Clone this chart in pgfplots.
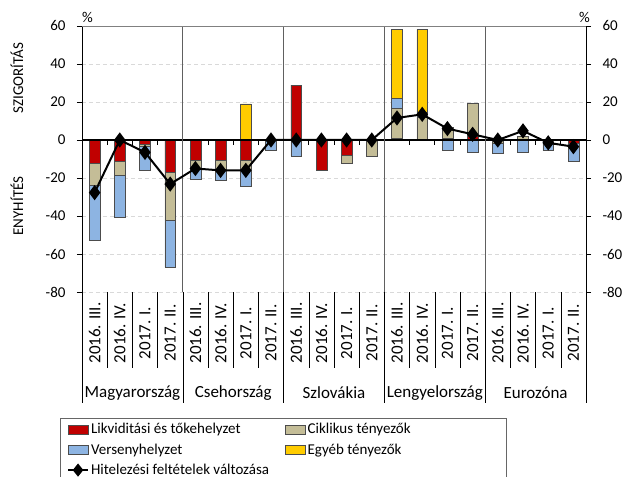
\documentclass[border=0pt]{standalone}
\usepackage{pgfplots}
\pgfplotsset{compat=1.18}
\usepackage{pgfplotstable}
\usepackage{fontspec}
\setmainfont{Carlito}
\definecolor{cRed}{HTML}{C00000}
\definecolor{cTan}{HTML}{C4BD97}
\definecolor{cBlue}{HTML}{8DB4E2}
\definecolor{cYel}{HTML}{FFCC00}
\definecolor{cGrid}{HTML}{D9D9D9}
\definecolor{cSep}{HTML}{606060}
\newcommand\fs{\fontsize{15bp}{18bp}\selectfont}
\newcommand\fl{\fontsize{17bp}{20bp}\selectfont}

% negative parts of the stacked components
\pgfplotstableread{
x R T B
0 -12.3 -11.4 -29.3
1 -11.4 -7.4 -21.6
2 -2.3 -1.2 -12.6
3 -17 -25 -25
4 -10.7 -4.7 -5.3
5 -10.7 -4.7 -5.8
6 -10.7 -4.7 -8.9
7 0 0 -5.3
8 0 0 -8.4
9 -15.8 0 0
10 -7.9 -4.6 0
11 0 -8.4 0
12 0 0 0
13 0 0 0
14 0 0 -5.3
15 0 0 -6.3
16 0 -1.5 -5.5
17 0 0 -6.7
18 0 -0.5 -5.1
19 -1.5 0 -9.8
}\negdata
% positive parts of the stacked components
\pgfplotstableread{
x R T B Y
0 0 0 0 0
1 0 0 0 0
2 0 0 0 0
3 0 0 0 0
4 0 0 0 0
5 0 0 0 0
6 0 0 0 19
7 0 0 0 0
8 28.9 0 0 0
9 0 0 0 0
10 0 0 0 0
11 0 0 0 0
12 1.0 15.6 5.3 36.3
13 0 12 2.5 43.7
14 1 5.5 0 0
15 2 17.3 0 0
16 0 0 0 0
17 0 2 0 0
18 0 0 0 0
19 0 0 0 0
}\posdata
\pgfplotstableread{
x L
0 -27.7
1 0
2 -6.5
3 -23.2
4 -15
5 -16
6 -16
7 0
8 0
9 0
10 0
11 0
12 11.6
13 13.5
14 6
15 3
16 0
17 4.8
18 -1.5
19 -3.5
}\linedata

\pgfplotsset{
  base/.style={
    width=504bp, height=266bp, scale only axis,
    xmin=-0.5, xmax=19.5, ymin=-80, ymax=60,
    xtick=\empty, clip=false,
  },
  bars/.style={base, ybar stacked, bar width=10.7bp},
  seg/.style={draw=black!70, line width=0.5bp},
  barleg/.style={legend image code/.code={\draw[##1] (0bp,-4.5bp) rectangle (20bp,4.5bp);}},
  lineleg/.style={legend image code/.code={%
    \draw[##1, mark=none] (0bp,0bp) -- (20bp,0bp);
    \fill[black] (10bp,5bp) -- (14bp,0bp) -- (10bp,-5bp) -- (6bp,0bp) -- cycle;}},
}

\begin{document}
\begin{tikzpicture}
% negative stacks, left axis, grid
\begin{axis}[bars,
  axis x line=none, axis y line*=left,
  axis line style={black, line width=0.75bp, -},
  ytick={-80,-60,...,60}, tick align=outside, major tick length=5bp,
  tick style={black, line width=0.75bp},
  ymajorgrids, grid style={cGrid, dash pattern=on 4bp off 3bp, line width=0.75bp},
  yticklabel style={font=\fs, xshift=-8bp},
  /pgf/number format/assume math mode=true,
]
\addplot[seg, fill=cRed] table[x=x,y=R]{\negdata};
\addplot[seg, fill=cTan] table[x=x,y=T]{\negdata};
\addplot[seg, fill=cBlue] table[x=x,y=B]{\negdata};
\end{axis}
% positive stacks
\begin{axis}[bars, hide axis]
\addplot[seg, fill=cRed] table[x=x,y=R]{\posdata};
\addplot[seg, fill=cTan] table[x=x,y=T]{\posdata};
\addplot[seg, fill=cBlue] table[x=x,y=B]{\posdata};
\addplot[seg, fill=cYel] table[x=x,y=Y]{\posdata};
\end{axis}
% zero line and separators (drawn before the line series)
\draw[black, line width=1.2bp] (0bp,152bp) -- (504bp,152bp);
\foreach \k in {1,2,3,5,6,7,9,10,11,13,14,15,17,18,19}
  \draw[black, line width=0.75bp] ({\k*25.2bp},152bp) -- ({\k*25.2bp},147bp);
\foreach \k in {4,8,12,16}
  \draw[cSep, line width=0.75bp] ({\k*25.2bp},0bp) -- ({\k*25.2bp},266bp);
\draw[gray, line width=0.75bp] (0bp,266bp) -- (504bp,266bp);
% line series, right axis, legend
\begin{axis}[base,
  axis x line=none, axis y line*=right,
  axis line style={black, line width=0.75bp, -},
  ytick={-80,-60,...,60}, tick align=outside, major tick length=5bp,
  tick style={black, line width=0.75bp},
  yticklabel style={font=\fs, xshift=8bp},
  /pgf/number format/assume math mode=true,
  legend columns=2, legend cell align=left,
  legend style={draw=none, fill=none, font=\fs,
    at={(-0.036,-0.478)}, anchor=north west,
    /tikz/every even column/.append style={column sep=14bp},
    row sep=4.5bp},
]
\addlegendimage{barleg, seg, fill=cRed}
\addlegendentry{Likviditási és tőkehelyzet}
\addlegendimage{barleg, seg, fill=cTan}
\addlegendentry{Ciklikus tényezők}
\addlegendimage{barleg, seg, fill=cBlue}
\addlegendentry{Versenyhelyzet}
\addlegendimage{barleg, seg, fill=cYel}
\addlegendentry{Egyéb tényezők}
\addplot[black, line width=2bp, mark=diamond*, mark size=6bp, mark options={solid}, lineleg]
  table[x=x,y=L]{\linedata};
\addlegendentry{Hitelezési feltételek változása}
\end{axis}
% category separators below the axis
\foreach \k in {0,...,20}
  \draw[black, line width=0.6bp] ({\k*25.2bp},0bp) -- ({\k*25.2bp},-76bp);
\foreach \k in {0,4,8,12,16,20}
  \draw[black, line width=0.6bp] ({\k*25.2bp},0bp) -- ({\k*25.2bp},-111bp);
\foreach \g in {0,...,4}
  \foreach \j/\lab in {0/{2016. III.},1/{2016. IV.},2/{2017. I.},3/{2017. II.}}
    \node[rotate=90, font=\fl, inner sep=0pt] at ({(4*\g+\j)*25.2bp+12.6bp},-41bp) {\lab};
\foreach \g/\name in {0/Magyarország,1/Csehország,2/Szlovákia,3/Lengyelország,4/Eurozóna}
  \node[font=\fl, inner sep=0pt] at ({\g*100.8bp+50.4bp},-101bp) {\name};
% axis side texts
\node[rotate=90, font=\fs] at (-65bp,214bp) {SZIGORÍTÁS};
\node[rotate=90, font=\fs] at (-65bp,86bp) {ENYHÍTÉS};
\node[font=\fs, anchor=south west, inner sep=0pt] at (0bp,269bp) {\%};
\node[font=\fs, anchor=south east, inner sep=0pt] at (508bp,269bp) {\%};
% legend frame
\draw[black!60, line width=0.75bp] (-22bp,-126bp) rectangle (424bp,-200bp);
\pgfresetboundingbox
\useasboundingbox (-82bp,-185bp) rectangle (548bp,292bp);
\end{tikzpicture}
\end{document}
